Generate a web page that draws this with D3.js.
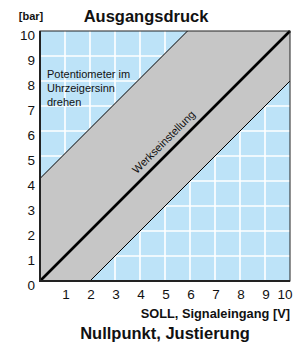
<!DOCTYPE html>
<html lang="de">
<head>
<meta charset="UTF-8">
<script src="https://d3js.org/d3.v7.min.js"></script>
<style>
  body { margin: 0; background: #fff; }
  text { font-family: "Liberation Sans", Arial, sans-serif; fill: #111; }
</style>
</head>
<body>
<div id="chart"></div>
<script>
// chart values
const xTicks = [1, 2, 3, 4, 5, 6, 7, 8, 9, 10];
const yTicks = [0, 1, 2, 3, 4, 5, 6, 7, 8, 9, 10];
const upperLimit = [[0, 4.1], [5.9, 10]];
const lowerLimit = [[2, 0], [10, 8]];
const factoryLine = [[0, 0], [10, 10]];
const bandCorners = [[0, 0], [0, 4.1], [5.9, 10], [10, 10], [10, 8], [2, 0]];
const noteLines = ["Potentiometer im", "Uhrzeigersinn", "drehen"];

const W = 301, H = 344;
const plotLeft = 40, plotRight = 290, plotTop = 31, plotBottom = 281;

const svg = d3.select("#chart").append("svg")
  .attr("width", W).attr("height", H);

const x = d3.scaleLinear().domain([0, 10]).range([plotLeft, plotRight]);
const y = d3.scaleLinear().domain([0, 10]).range([plotBottom, plotTop]);

// background
svg.append("rect")
  .attr("x", x(0)).attr("y", y(10))
  .attr("width", x(10) - x(0)).attr("height", y(0) - y(10))
  .attr("fill", "#bde3f8");

// white grid
svg.append("g").selectAll("line").data(xTicks.slice(0, -1)).join("line")
  .attr("x1", d => x(d)).attr("x2", d => x(d))
  .attr("y1", y(0)).attr("y2", y(10))
  .attr("stroke", "#fff").attr("stroke-width", 1.6);
svg.append("g").selectAll("line").data(yTicks.slice(1, -1)).join("line")
  .attr("y1", d => y(d)).attr("y2", d => y(d))
  .attr("x1", x(0)).attr("x2", x(10))
  .attr("stroke", "#fff").attr("stroke-width", 1.6);

const line = d3.line().x(d => x(d[0])).y(d => y(d[1]));

// grey band
svg.append("path")
  .attr("d", line(bandCorners) + "Z")
  .attr("fill", "#c6c6c6");

svg.append("path").attr("d", line(upperLimit))
  .attr("stroke", "#000").attr("stroke-width", 1).attr("fill", "none");
svg.append("path").attr("d", line(lowerLimit))
  .attr("stroke", "#000").attr("stroke-width", 1).attr("fill", "none");
svg.append("path").attr("d", line(factoryLine))
  .attr("stroke", "#000").attr("stroke-width", 2.6).attr("fill", "none");

// frame
svg.append("rect")
  .attr("x", x(0)).attr("y", y(10))
  .attr("width", x(10) - x(0)).attr("height", y(0) - y(10))
  .attr("fill", "none").attr("stroke", "#222").attr("stroke-width", 1);
svg.append("path")
  .attr("d", `M${x(0)},${y(10)}V${y(0)}H${x(10)}`)
  .attr("fill", "none").attr("stroke", "#222").attr("stroke-width", 2);

// y tick labels
svg.append("g").selectAll("text").data(yTicks).join("text")
  .attr("x", 35).attr("y", d => y(d) + 9)
  .attr("text-anchor", "end")
  .attr("font-size", 13.5)
  .text(d => d);

// x tick labels
svg.append("g").selectAll("text").data(xTicks).join("text")
  .attr("x", d => d === 10 ? x(d) - 5 : x(d) + 1)
  .attr("y", 299)
  .attr("text-anchor", "middle")
  .attr("font-size", 13.5)
  .text(d => d);

// titles
svg.append("text").attr("x", 31).attr("y", 20)
  .attr("text-anchor", "middle").attr("font-size", 11).attr("font-weight", "bold")
  .text("[bar]");
svg.append("text").attr("x", 146).attr("y", 22)
  .attr("text-anchor", "middle").attr("font-size", 16.5).attr("font-weight", "bold")
  .text("Ausgangsdruck");
svg.append("text").attr("x", 290).attr("y", 318)
  .attr("text-anchor", "end").attr("font-size", 12.8).attr("font-weight", "bold")
  .text("SOLL, Signaleingang [V]");
svg.append("text").attr("x", 165).attr("y", 339)
  .attr("text-anchor", "middle").attr("font-size", 16.5).attr("font-weight", "bold")
  .text("Nullpunkt, Justierung");

// note
svg.append("g").selectAll("text").data(noteLines).join("text")
  .attr("x", 47).attr("y", (d, i) => 78 + i * 14)
  .attr("font-size", 11)
  .attr("font-family", "'Liberation Sans Narrow', 'Liberation Sans', sans-serif")
  .text(d => d);

// factory setting label
svg.append("text")
  .attr("transform", `translate(${x(5.05)},${y(5.05) - 10}) rotate(-45)`)
  .attr("text-anchor", "middle")
  .attr("font-size", 11)
  .text("Werkseinstellung");
</script>
</body>
</html>
